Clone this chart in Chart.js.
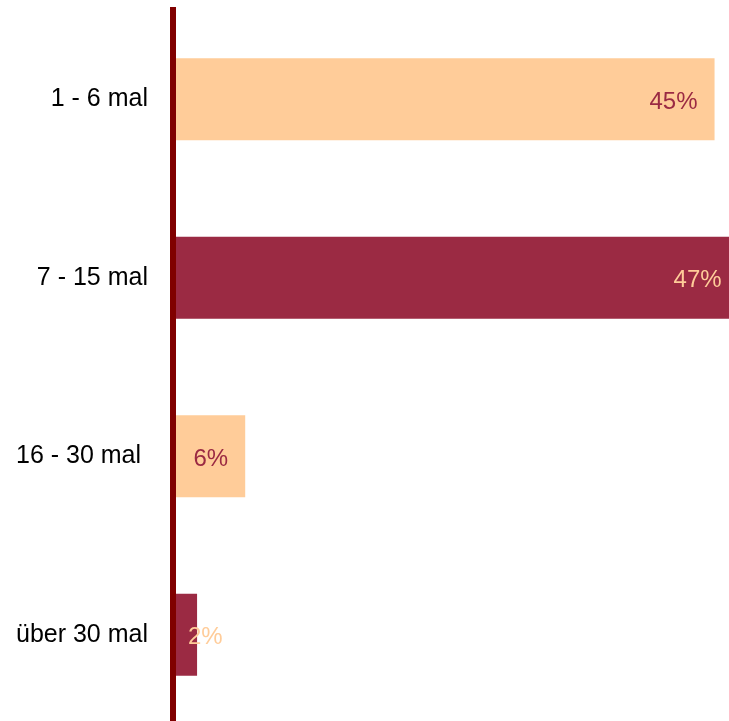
<!DOCTYPE html>
<html>
<head>
<meta charset="utf-8">
<script src="https://cdn.jsdelivr.net/npm/chart.js@4"></script>
<style>
  html, body { margin: 0; padding: 0; background: #fff; overflow: hidden; }
  #wrap { width: 729px; height: 724px; position: relative; }
</style>
</head>
<body>
<div id="wrap"><canvas id="myChart"></canvas></div>
<script>
const categories = ['1 - 6 mal', '7 - 15 mal', '16 - 30 mal ', 'über 30 mal'];
const values = [45, 47, 6, 2];
const barColors = ['#ffcc99', '#9b2a43', '#ffcc99', '#9b2a43'];
const labelColors = ['#9b2a43', '#ffcc99', '#9b2a43', '#ffcc99'];

const FONT = '"Liberation Sans", Arial, sans-serif';

// percent labels at the end of each bar, pushed right when the bar is short
const valueLabels = {
    id: 'value_labels',
    afterDatasetsDraw: (chart) => {
        const ctx = chart.ctx;
        const area = chart.chartArea;
        const meta = chart.getDatasetMeta(0);
        ctx.save();
        ctx.font = '24px ' + FONT;
        ctx.textBaseline = 'middle';
        ctx.textAlign = 'left';
        meta.data.forEach((bar, i) => {
            const text = values[i] + '%';
            const w = ctx.measureText(text).width;
            const x = Math.max(bar.x - 17 - w, area.left + 15);
            ctx.fillStyle = labelColors[i];
            ctx.fillText(text, x, bar.y + 3);
        });
        ctx.restore();
    }
};

const ctx = document.getElementById('myChart').getContext('2d');

const myChart = new Chart(ctx, {
    type: 'bar',
    plugins: [valueLabels],
    data: {
        labels: categories,
        datasets: [{
            data: values,
            backgroundColor: barColors,
            borderWidth: 0,
            barPercentage: 0.92,
            categoryPercentage: 0.5
        }]
    },
    options: {
        indexAxis: 'y',
        responsive: true,
        maintainAspectRatio: false,
        animation: false,
        layout: { padding: { left: 13, top: 10, right: 0, bottom: 0 } },
        plugins: {
            legend: { display: false },
            tooltip: { enabled: false }
        },
        scales: {
            x: {
                display: false,
                min: 0,
                max: 46.2
            },
            y: {
                z: 1,
                afterFit: (scale) => {
                    scale.width = 160;
                    scale.paddingTop = 0;
                    scale.paddingBottom = 0;
                },
                grid: { display: false, drawTicks: false },
                border: { display: true, color: '#800000', width: 6, z: 1 },
                ticks: {
                    padding: 25,
                    color: '#000',
                    font: { family: FONT, size: 25 }
                }
            }
        }
    }
});
</script>
</body>
</html>
